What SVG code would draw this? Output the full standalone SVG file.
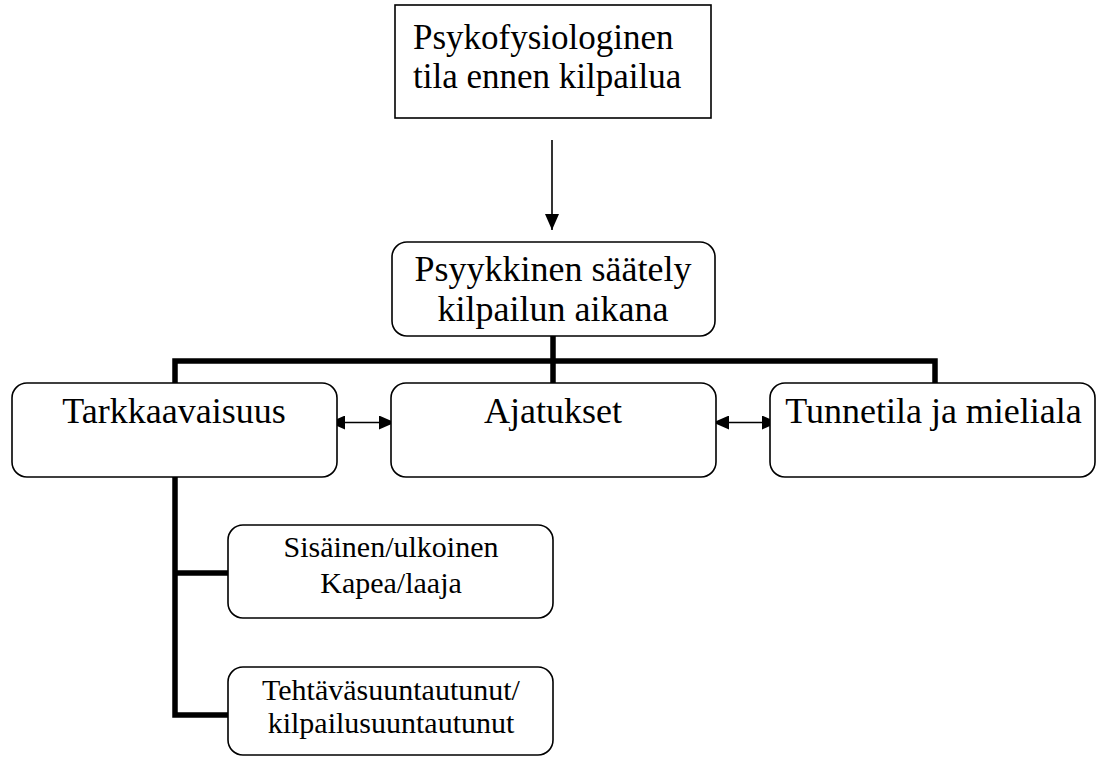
<svg xmlns="http://www.w3.org/2000/svg" width="1096" height="757" viewBox="0 0 1096 757">
<style>
.box{fill:#fff;stroke:#000;stroke-width:1.6}
text{font-family:'Liberation Serif','Times New Roman','DejaVu Serif',serif;fill:#000}
.big{font-size:36px}
.small{font-size:30px}
.thick{fill:none;stroke:#000;stroke-width:5.5;stroke-linecap:butt;stroke-linejoin:miter}
.thin{fill:none;stroke:#000;stroke-width:1.6}
</style>
<defs>
<marker id="ah" viewBox="0 0 16 14" refX="16" refY="7" markerWidth="16" markerHeight="14" markerUnits="userSpaceOnUse" orient="auto-start-reverse">
<path d="M0,0 L16,7 L0,14 Z" fill="#000"/>
</marker>
</defs>
<g id="connectors">
<line class="thin" x1="552" y1="140" x2="552" y2="230" marker-end="url(#ah)"/>
<path class="thick" d="M553,336 V383 M175,383 V361 H935 V383 M175,477 V715 H228 M175,573 H228"/>
<line class="thin" x1="329" y1="422.5" x2="395" y2="422.5" marker-start="url(#ah)" marker-end="url(#ah)"/>
<line class="thin" x1="713" y1="422.5" x2="778" y2="422.5" marker-start="url(#ah)" marker-end="url(#ah)"/>
</g>
<g id="n-top">
<rect class="box" x="395" y="5" width="316" height="113"/>
<text x="413" y="49" font-size="35" font-family="Liberation Serif, serif">Psykofysiologinen</text>
<text x="413" y="88" font-size="35" font-family="Liberation Serif, serif">tila ennen kilpailua</text>
</g>
<g id="n-saately">
<rect class="box" x="392" y="242" width="323" height="94" rx="15"/>
<text class="big" x="553" y="281" text-anchor="middle">Psyykkinen säätely</text>
<text class="big" x="553" y="321" text-anchor="middle">kilpailun aikana</text>
</g>
<g id="n-tarkkaavaisuus">
<rect class="box" x="12" y="383" width="325" height="94" rx="15"/>
<text class="big" x="174" y="423" text-anchor="middle">Tarkkaavaisuus</text>
</g>
<g id="n-ajatukset">
<rect class="box" x="391" y="383" width="325" height="94" rx="15"/>
<text class="big" x="553" y="423" text-anchor="middle">Ajatukset</text>
</g>
<g id="n-tunnetila">
<rect class="box" x="770" y="383" width="325" height="94" rx="15"/>
<text class="big" x="933.5" y="423" text-anchor="middle">Tunnetila ja mieliala</text>
</g>
<g id="n-sisainen">
<rect class="box" x="228" y="525" width="325" height="93" rx="15"/>
<text class="small" x="391" y="557" text-anchor="middle">Sisäinen/ulkoinen</text>
<text class="small" x="391" y="593" text-anchor="middle">Kapea/laaja</text>
</g>
<g id="n-tehtava">
<rect class="box" x="228" y="667" width="325" height="88" rx="15"/>
<text class="small" x="391" y="700" text-anchor="middle">Tehtäväsuuntautunut/</text>
<text class="small" x="391" y="733" text-anchor="middle">kilpailusuuntautunut</text>
</g>
</svg>
